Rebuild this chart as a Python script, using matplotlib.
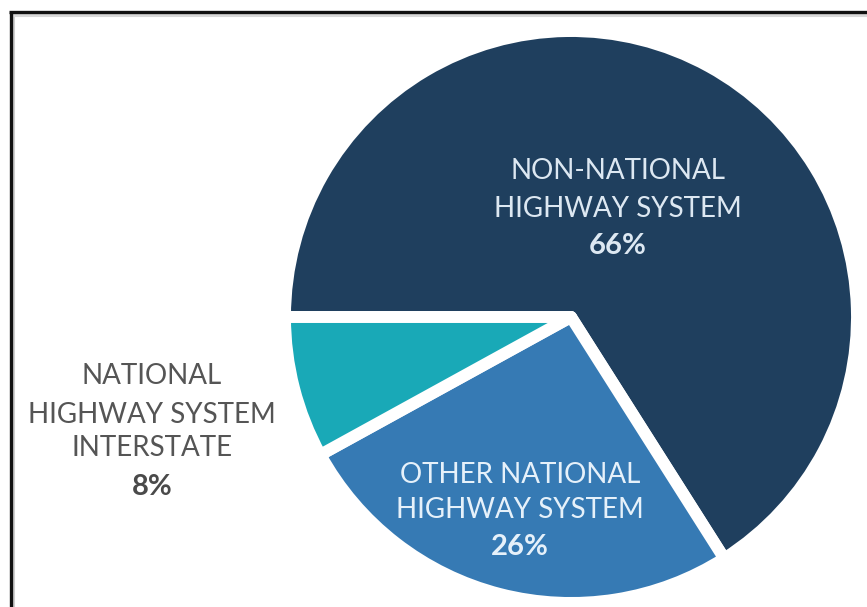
import matplotlib
matplotlib.use("Agg")
import matplotlib.pyplot as plt
from matplotlib.lines import Line2D

# Share of highway miles by system
categories = ["NON-NATIONAL\nHIGHWAY SYSTEM",
              "OTHER NATIONAL\nHIGHWAY SYSTEM",
              "NATIONAL\nHIGHWAY SYSTEM\nINTERSTATE"]
shares = [66, 26, 8]
colors = ["#1f3f5e", "#367ab4", "#19a9b7"]

W, H = 867, 607
fig = plt.figure(figsize=(W / 100, H / 100), dpi=100)
fig.patch.set_facecolor("white")
ax = fig.add_axes([0, 0, 1, 1])

wedges, _ = ax.pie(
    shares,
    colors=colors,
    startangle=180,
    counterclock=False,
    center=(571, 290),
    radius=286,
    wedgeprops=dict(edgecolor="white", linewidth=8.6, joinstyle="round"),
)
ax.set_xlim(0, W)
ax.set_ylim(0, H)
ax.set_aspect("equal", adjustable="box")
ax.axis("off")

font = "Lato"
name_size = 20
pct_size = 21
name_weight = "normal"

# Label inside the dark slice
navy_txt = "#dde8f2"
ax.text(618, 436, "NON-NATIONAL", ha="center", va="center", color=navy_txt,
        fontsize=name_size, fontweight=name_weight, family=font)
ax.text(618, 398, "HIGHWAY SYSTEM", ha="center", va="center", color=navy_txt,
        fontsize=name_size, fontweight=name_weight, family=font)
ax.text(618, 361, f"{shares[0]}%", ha="center", va="center", color=navy_txt,
        fontsize=pct_size, fontweight="bold", family=font)

# Label inside the mid-blue slice
blue_txt = "#e6f1fa"
ax.text(520, 132, "OTHER NATIONAL", ha="center", va="center", color=blue_txt,
        fontsize=name_size, fontweight=name_weight, family=font)
ax.text(520, 97, "HIGHWAY SYSTEM", ha="center", va="center", color=blue_txt,
        fontsize=name_size, fontweight=name_weight, family=font)
ax.text(520, 60, f"{shares[1]}%", ha="center", va="center", color=blue_txt,
        fontsize=pct_size, fontweight="bold", family=font)

# Label beside the small teal slice
gray_txt = "#555555"
ax.text(152, 231, "NATIONAL", ha="center", va="center", color=gray_txt,
        fontsize=name_size, fontweight=name_weight, family=font)
ax.text(152, 192, "HIGHWAY SYSTEM", ha="center", va="center", color=gray_txt,
        fontsize=name_size, fontweight=name_weight, family=font)
ax.text(152, 159, "INTERSTATE", ha="center", va="center", color=gray_txt,
        fontsize=name_size, fontweight=name_weight, family=font)
ax.text(152, 120, f"{shares[2]}%", ha="center", va="center", color="#4a4a4a",
        fontsize=pct_size, fontweight="bold", family=font)

# Panel frame along the top and left, with a soft inner shadow
fig.add_artist(Line2D([12.5 / W, 12.5 / W], [0, (H - 15) / H], transform=fig.transFigure,
                      color="#cfcfcf", lw=2.2))
fig.add_artist(Line2D([12.5 / W, 1], [(H - 15) / H, (H - 15) / H], transform=fig.transFigure,
                      color="#d8d8d8", lw=2.2))
fig.add_artist(Line2D([10.5 / W, 10.5 / W], [0, (H - 12) / H], transform=fig.transFigure,
                      color="#111111", lw=2.4, solid_capstyle="butt"))
fig.add_artist(Line2D([9 / W, 1], [(H - 12) / H, (H - 12) / H], transform=fig.transFigure,
                      color="#111111", lw=2.4, solid_capstyle="butt"))

fig.savefig("out.png", dpi=100, facecolor="white")
